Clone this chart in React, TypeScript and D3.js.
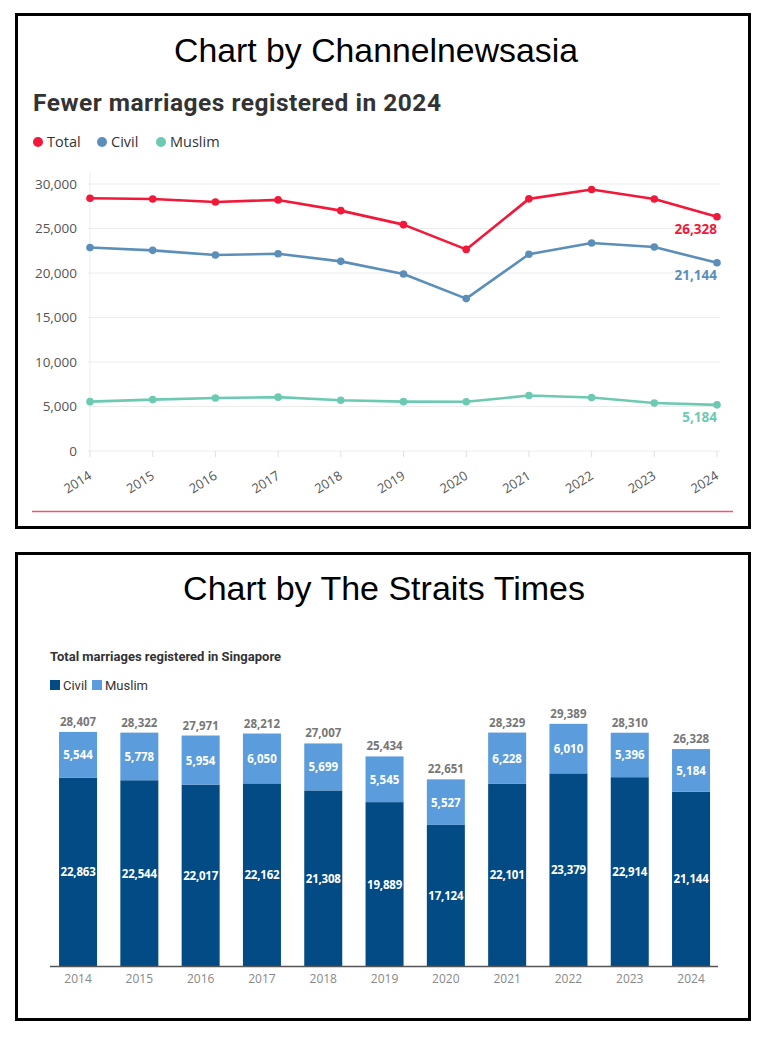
import React from "react";
import * as d3 from "d3";

const years = ["2014","2015","2016","2017","2018","2019","2020","2021","2022","2023","2024"];
const civil = [22863, 22544, 22017, 22162, 21308, 19889, 17124, 22101, 23379, 22914, 21144];
const muslim = [5544, 5778, 5954, 6050, 5699, 5545, 5527, 6228, 6010, 5396, 5184];
const total = [28407, 28322, 27971, 28212, 27007, 25434, 22651, 28329, 29389, 28310, 26328];
const yTicks = [0, 5000, 10000, 15000, 20000, 25000, 30000];

const C_TOTAL = "#f2183a";
const C_CIVIL = "#5b8fba";
const C_MUSLIM = "#6ccab2";
const B_CIVIL = "#034b85";
const B_MUSLIM = "#5a9cdc";

const fmt = d3.format(",");

export default function App() {
  // Top line chart
  const x1 = d3.scalePoint<string>().domain(years).range([90, 717]);
  const y1 = d3.scaleLinear().domain([0, 30000]).range([451, 184]);
  const line = (vals: number[]) =>
    d3.line<number>().x((_, i) => x1(years[i])!).y((v) => y1(v))(vals) || "";
  const series = [
    { name: "Total", vals: total, color: C_TOTAL },
    { name: "Civil", vals: civil, color: C_CIVIL },
    { name: "Muslim", vals: muslim, color: C_MUSLIM },
  ];
  const legendX = [38, 102, 161];

  // Bottom bar chart
  const x2 = d3.scaleBand<string>().domain(years).range([47.4, 721.7]).paddingInner(0.38).paddingOuter(0.19);
  const y2 = d3.scaleLinear().domain([0, 30000]).range([966, 718.8]);
  const numFont = "'Open Sans', sans-serif";
  const narrow = "'Liberation Sans Narrow', Roboto, sans-serif";

  return (
    <svg width={768} height={1056} style={{ position: "absolute", left: 0, top: 0, background: "#fff" }}>
      <rect x={0} y={0} width={768} height={1056} fill="#fff" />
      {/* Top box */}
      <rect x={16.5} y={14.5} width={733} height={513} fill="none" stroke="#000" strokeWidth={3} />
      <text x={376} y={62} textAnchor="middle" fontFamily="'Liberation Sans', Arial, sans-serif" fontSize={33.8} fill="#000">Chart by Channelnewsasia</text>
      <text x={33} y={111} fontFamily="Roboto, sans-serif" fontWeight={700} fontSize={24.5} letterSpacing={0.5} fill="#333">Fewer marriages registered in 2024</text>
      {series.map((s, i) => (
        <g key={s.name}>
          <circle cx={legendX[i]} cy={142} r={5} fill={s.color} />
          <text x={legendX[i] + 9} y={147} fontFamily={numFont} fontSize={14.5} fill="#333">{s.name}</text>
        </g>
      ))}
      {/* grid */}
      {yTicks.map((t) => (
        <g key={t}>
          <line x1={88} x2={720} y1={y1(t)} y2={y1(t)} stroke="#ececec" strokeWidth={1} />
          <text x={77} y={y1(t) + 4.5} textAnchor="end" fontFamily={numFont} fontSize={13.5} fill="#555">{fmt(t)}</text>
        </g>
      ))}
      <line x1={90} x2={90} y1={172} y2={451} stroke="#ececec" />
      {years.map((yr) => (
        <g key={yr}>
          <line x1={x1(yr)} x2={x1(yr)} y1={451} y2={457} stroke="#e0e0e0" />
          <text transform={`translate(${x1(yr)! - 10},${486}) rotate(-32)`} textAnchor="middle" fontFamily={numFont} fontSize={13} fill="#555">{yr}</text>
        </g>
      ))}
      {series.map((s) => (
        <g key={s.name}>
          <path d={line(s.vals)} fill="none" stroke={s.color} strokeWidth={2.6} strokeLinejoin="round" />
          {s.vals.map((v, i) => (
            <circle key={i} cx={x1(years[i])} cy={y1(v)} r={3.8} fill={s.color} />
          ))}
          <text x={717} y={y1(s.vals[s.vals.length - 1]) + 17} textAnchor="end" fontFamily={numFont} fontWeight={700} fontSize={13.5} fill={s.color}>{fmt(s.vals[s.vals.length - 1])}</text>
        </g>
      ))}
      <line x1={32} x2={733} y1={511.5} y2={511.5} stroke="#ee5573" strokeWidth={1.5} />

      {/* Bottom box */}
      <rect x={16.5} y={553.5} width={733} height={466} fill="none" stroke="#000" strokeWidth={3} />
      <text x={384} y={600} textAnchor="middle" fontFamily="'Liberation Sans', Arial, sans-serif" fontSize={34} fill="#000">Chart by The Straits Times</text>
      <text x={50} y={661} fontFamily={narrow} fontWeight={700} fontSize={13} fill="#333">Total marriages registered in Singapore</text>
      <rect x={50} y={680} width={10} height={10} fill={B_CIVIL} />
      <text x={63} y={689.5} fontFamily={narrow} fontSize={13} fill="#333">Civil</text>
      <rect x={92} y={680} width={10} height={10} fill={B_MUSLIM} />
      <text x={105} y={689.5} fontFamily={narrow} fontSize={13} fill="#333">Muslim</text>
      {years.map((yr, i) => {
        const bx = x2(yr)!;
        const bw = x2.bandwidth();
        const cx = bx + bw / 2;
        const yc = y2(civil[i]);
        const yt = y2(civil[i] + muslim[i]);
        return (
          <g key={yr}>
            <rect x={bx} y={yc} width={bw} height={y2(0) - yc} fill={B_CIVIL} />
            <rect x={bx} y={yt} width={bw} height={yc - yt} fill={B_MUSLIM} />
            <text x={cx} y={(yc + y2(0)) / 2 + 4.5} textAnchor="middle" fontFamily={numFont} fontWeight={700} fontSize={11.5} letterSpacing={-0.2} fill="#fff">{fmt(civil[i])}</text>
            <text x={cx} y={(yc + yt) / 2 + 4.5} textAnchor="middle" fontFamily={numFont} fontWeight={700} fontSize={11.5} fill="#fff">{fmt(muslim[i])}</text>
            <text x={cx} y={y2(total[i]) - 6} textAnchor="middle" fontFamily={numFont} fontWeight={700} fontSize={11.5} fill="#777">{fmt(total[i])}</text>
            <text x={cx} y={983} textAnchor="middle" fontFamily={numFont} fontSize={12} fill="#888">{yr}</text>
          </g>
        );
      })}
      <line x1={50} x2={718} y1={966.5} y2={966.5} stroke="#555" strokeWidth={1.5} />
    </svg>
  );
}
